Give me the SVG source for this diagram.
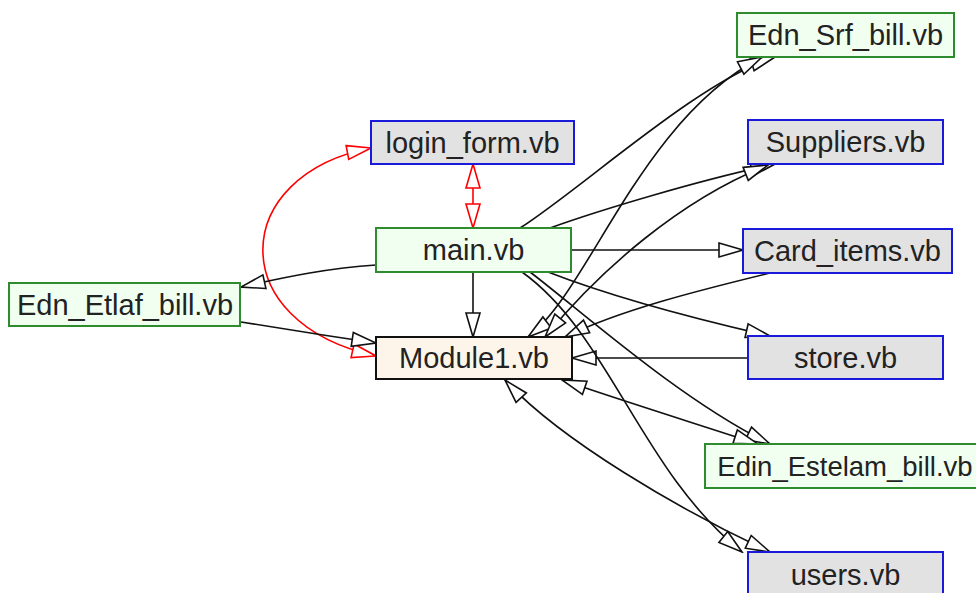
<svg xmlns="http://www.w3.org/2000/svg" width="976" height="593" viewBox="0 0 976 593">
<style>
  .lbl { font-family: "Liberation Sans", Arial, sans-serif; font-size: 29px; fill: #222; text-anchor: middle; }
  .blue { fill: #e2e2e2; stroke: #1a1adc; stroke-width: 2; }
  .green { fill: #f0fff0; stroke: #2e8b2e; stroke-width: 2; }
  .mod { fill: #fdf5ea; stroke: #111; stroke-width: 2; }
  .e { fill: none; stroke: #111; stroke-width: 1.6; marker-end: url(#ah); }
  .bi { marker-start: url(#ah); }
  .r { fill: none; stroke: #f00; stroke-width: 1.6; marker-end: url(#ahr); marker-start: url(#ahr); }
</style>
<defs>
  <marker id="ah" markerUnits="userSpaceOnUse" markerWidth="28" markerHeight="18" refX="24" refY="7" orient="auto-start-reverse" viewBox="-2 -2 28 18">
    <path d="M0,0 L24,7 L0,14 Z" fill="#fff" stroke="#111" stroke-width="1.6"/>
  </marker>
  <marker id="ahr" markerUnits="userSpaceOnUse" markerWidth="28" markerHeight="18" refX="24" refY="7" orient="auto-start-reverse" viewBox="-2 -2 28 18">
    <path d="M0,0 L24,7 L0,14 Z" fill="#fff" stroke="#f00" stroke-width="1.6"/>
  </marker>
</defs>
<rect width="976" height="593" fill="#fff"/>
<g id="connectors">
  <path class="r" d="M473,164 L473,228"/>
  <path class="r" d="M371,148 C230,175 222,322 376,356"/>
  <path class="e" d="M473,272 L473,337"/>
  <path class="e" d="M376,265 C330,268 290,276 241,287"/>
  <path class="e" d="M241,322 C290,330 330,336 376,343"/>
  <path class="e" d="M571,250 L743,250"/>
  <path class="e" d="M520,228 C580,190 700,80 775,57"/>
  <path class="e bi" d="M528,337 C590,290 640,120 762,57"/>
  <path class="e" d="M550,228 C600,210 700,180 775,164"/>
  <path class="e bi" d="M545,337 C600,270 680,200 768,165"/>
  <path class="e" d="M770,273 C700,290 620,310 565,337"/>
  <path class="e" d="M548,272 C620,300 700,320 770,336"/>
  <path class="e" d="M748,358 L572,358"/>
  <path class="e" d="M530,272 C580,310 680,400 770,444"/>
  <path class="e bi" d="M562,380 C620,400 700,425 758,444"/>
  <path class="e" d="M522,272 C610,335 640,470 742,552"/>
  <path class="e bi" d="M505,380 C560,440 680,510 770,552"/>
</g>
<g id="node-login_form">
  <rect class="blue" x="371" y="121" width="203" height="43"/>
  <text class="lbl" x="472.5" y="152.5">login_form.vb</text>
</g>
<g id="node-main">
  <rect class="green" x="376" y="228" width="195" height="44"/>
  <text class="lbl" x="473.5" y="260">main.vb</text>
</g>
<g id="node-Module1">
  <rect class="mod" x="376" y="337" width="196" height="42"/>
  <text class="lbl" x="474" y="368">Module1.vb</text>
</g>
<g id="node-Edn_Etlaf_bill">
  <rect class="green" x="9" y="283" width="231" height="43"/>
  <text class="lbl" x="125" y="314.5">Edn_Etlaf_bill.vb</text>
</g>
<g id="node-Edn_Srf_bill">
  <rect class="green" x="737" y="13" width="217" height="44"/>
  <text class="lbl" x="845.5" y="45">Edn_Srf_bill.vb</text>
</g>
<g id="node-Suppliers">
  <rect class="blue" x="748" y="120" width="195" height="44"/>
  <text class="lbl" x="845.5" y="152">Suppliers.vb</text>
</g>
<g id="node-Card_items">
  <rect class="blue" x="743" y="229" width="209" height="44"/>
  <text class="lbl" x="847.5" y="261">Card_items.vb</text>
</g>
<g id="node-store">
  <rect class="blue" x="748" y="336" width="195" height="43"/>
  <text class="lbl" x="845.5" y="367.5">store.vb</text>
</g>
<g id="node-Edin_Estelam_bill">
  <rect class="green" x="705" y="444" width="295" height="44"/>
  <text class="lbl" x="845" y="476" style="font-size:27.5px">Edin_Estelam_bill.vb</text>
</g>
<g id="node-users">
  <rect class="blue" x="748" y="552" width="195" height="44"/>
  <text class="lbl" x="845.5" y="585">users.vb</text>
</g>
</svg>
